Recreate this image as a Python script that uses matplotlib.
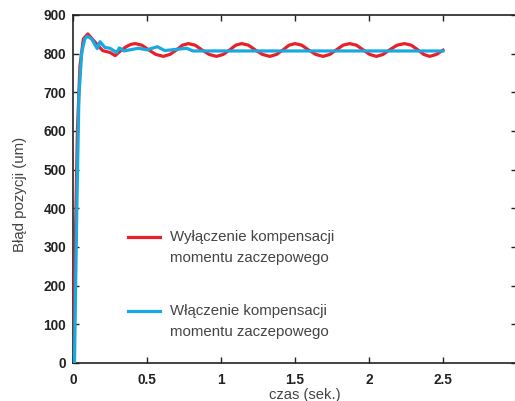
import matplotlib
matplotlib.use("Agg")
import matplotlib.pyplot as plt
from matplotlib.lines import Line2D

plt.rcParams['font.family'] = ['Liberation Sans', 'DejaVu Sans']

# Data
red_t = [0.0, 0.015, 0.03, 0.047, 0.07, 0.10, 0.13, 0.16, 0.20, 0.25, 0.285, 0.32, 0.36, 0.39,
         0.42, 0.465, 0.51, 0.56, 0.61, 0.655, 0.70, 0.74, 0.78, 0.825, 0.87, 0.92, 0.97,
         1.015, 1.06, 1.10, 1.14, 1.185, 1.23, 1.28, 1.33, 1.375, 1.42, 1.46, 1.50, 1.545,
         1.59, 1.64, 1.69, 1.735, 1.78, 1.825, 1.87, 1.915, 1.96, 2.005, 2.05, 2.095, 2.14,
         2.19, 2.24, 2.285, 2.33, 2.37, 2.41, 2.455, 2.50]
red_v = [0, 300, 604, 768, 838, 851, 838, 825, 808, 803, 795, 807, 818, 824,
         826, 822, 810, 798, 793, 798, 810, 822, 826, 822, 810, 798, 793,
         798, 810, 822, 826, 822, 810, 798, 793, 798, 810, 822, 826, 822,
         810, 798, 793, 798, 810, 822, 826, 822, 810, 798, 793, 798, 810,
         822, 826, 822, 810, 798, 793, 798, 809]

blue_t = [0.0, 0.01, 0.025, 0.04, 0.059, 0.08, 0.097, 0.126, 0.164, 0.182, 0.216, 0.25,
          0.295, 0.313, 0.345, 0.44, 0.50, 0.57, 0.62, 0.768, 0.81, 1.0, 1.5, 2.0, 2.5]
blue_v = [0, 0, 380, 690, 804, 838, 845, 838, 813, 831, 816, 814,
          803, 815, 807, 814, 810, 818, 808, 814, 807, 807, 807, 807, 807]

red_label = ["Wyłączenie kompensacji", "momentu zaczepowego"]
blue_label = ["Włączenie kompensacji", "momentu zaczepowego"]
x_ticks = [0, 0.5, 1, 1.5, 2, 2.5]
x_ticklabels = ["0", "0.5", "1", "1.5", "2", "2.5"]
y_ticks = [0, 100, 200, 300, 400, 500, 600, 700, 800, 900]

RED = "#e8202a"
BLUE = "#17a9e1"
TXT = "#444444"

fig = plt.figure(figsize=(5.15, 4.01), dpi=100)
ax = fig.add_axes([73/515, 38/401, 444/515, 348/401])

ax.plot(red_t, red_v, color=RED, lw=2.3, solid_joinstyle='round', zorder=3)
ax.plot(blue_t, blue_v, color=BLUE, lw=2.3, solid_joinstyle='round', zorder=4)

ax.set_xlim(0, 3)
ax.set_ylim(0, 900)
ax.set_xticks(x_ticks)
ax.set_xticklabels(x_ticklabels)
ax.set_yticks(y_ticks)

ax.tick_params(direction='in', length=4, width=1, top=True, right=True,
               labelsize=9.8, colors='#222222')
ax.tick_params(axis='x', pad=7.5)
ax.tick_params(axis='y', pad=5)
for lab in ax.get_xticklabels() + ax.get_yticklabels():
    lab.set_fontweight('bold')
for s in ax.spines.values():
    s.set_linewidth(1.2)
    s.set_color('#222222')

ax.set_ylabel("Błąd pozycji (um)", fontsize=10.8, color=TXT)
ax.yaxis.set_label_coords(-0.104, 0.485)
ax.set_xlabel("czas (sek.)", fontsize=10.6, color=TXT)
ax.xaxis.set_label_coords(0.523, -0.072)

# Legend drawn manually (handle aligned to first line)
def entry(color, lines, y0):
    ax.add_line(Line2D([0.124, 0.196], [y0, y0], transform=ax.transAxes,
                       color=color, lw=2.3))
    for i, t in enumerate(lines):
        ax.text(0.219, y0 - i * 21/348, t, transform=ax.transAxes,
                fontsize=10.8, color=TXT, va='center', ha='left')

entry(RED, red_label, (363-237)/348)
entry(BLUE, blue_label, (363-311)/348)

fig.savefig("out.png", dpi=100)
